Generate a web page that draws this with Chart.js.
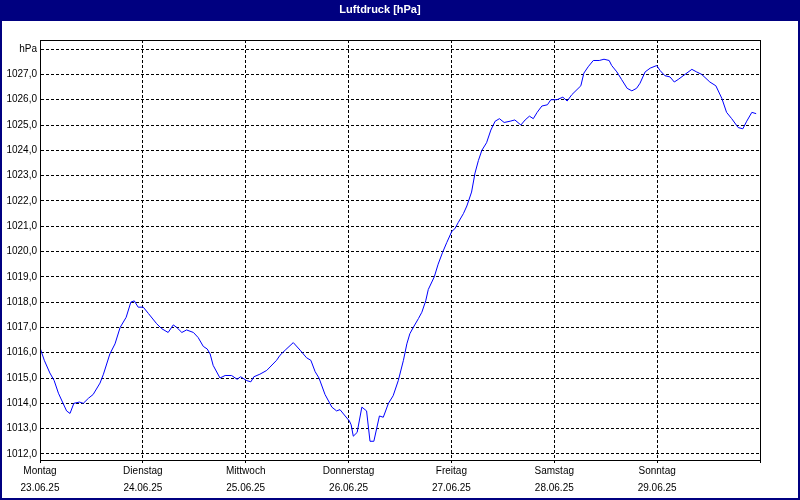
<!DOCTYPE html>
<html>
<head>
<meta charset="utf-8">
<title>Luftdruck [hPa]</title>
<script src="https://cdn.jsdelivr.net/npm/chart.js@4.4.1/dist/chart.umd.min.js"></script>
<style>
    html, body { margin: 0; padding: 0; background: #ffffff; }
    #wrap { width: 800px; height: 500px; }
</style>
</head>
<body>
<div id="wrap"><canvas id="pressureChart" width="800" height="500"></canvas></div>
<script>
// Week axis labels
const dayNames = ['Montag', 'Dienstag', 'Mittwoch', 'Donnerstag', 'Freitag', 'Samstag', 'Sonntag'];
const dayDates = ['23.06.25', '24.06.25', '25.06.25', '26.06.25', '27.06.25', '28.06.25', '29.06.25'];
const yTicks = [1012, 1013, 1014, 1015, 1016, 1017, 1018, 1019, 1020, 1021, 1022, 1023, 1024, 1025, 1026, 1027, 1028];

// Hours since Monday 00:00 and air pressure in hPa
const hours = [
    0, 1.0, 2.3, 3.3, 4.3, 6.2, 7.0, 7.9, 9.2, 10.1, 11.3, 12.4, 14.0, 14.8, 16.3, 17.5, 18.7, 20.1, 21.2, 22.0,
    22.9, 24.1, 25.3, 27.2, 28.4, 29.9, 31.1, 31.9, 33.1, 34.2, 35.8, 36.9, 38.1, 39.0, 39.7, 40.4, 42.0, 43.2, 44.7, 46.0,
    46.8, 48.2, 49.2, 49.9, 51.3, 52.9, 55.2, 56.0, 57.2, 59.1, 60.7, 62.2, 63.2, 64.2, 65.1, 66.5, 68.1, 69.2, 70.0, 71.2,
    72.2, 72.6, 73.1, 74.0, 75.1, 76.2, 77.0, 77.9, 79.2, 80.1, 81.3, 82.4, 83.6, 84.8, 85.6, 86.3, 87.1, 88.3, 89.1, 90.0,
    90.6, 92.0, 92.9, 93.9, 94.9, 96.1, 96.8, 97.6, 98.8, 99.6, 100.7, 101.5, 102.3, 103.1, 104.2, 105.2, 106.2, 107.2, 108.3, 109.7,
    110.8, 112.2, 113.2, 114.2, 115.1, 116.0, 117.1, 118.4, 119.2, 120.6, 122.0, 123.0, 124.1, 126.2, 126.9, 127.9, 129.1, 130.5, 131.6, 132.8,
    133.4, 134.6, 135.7, 137.0, 138.1, 139.2, 140.0, 141.2, 142.4, 143.9, 144.7, 145.8, 147.0, 148.0, 148.9, 150.5, 152.1, 153.2, 154.4, 156.3,
    157.7, 159.1, 160.2, 161.4, 162.9, 164.0, 164.9, 166.1, 167.1
];
const pressure = [
    1016.2, 1015.7, 1015.2, 1014.9, 1014.4, 1013.7, 1013.6, 1014.0, 1014.05, 1014.0, 1014.2, 1014.35, 1014.8, 1015.15, 1015.95, 1016.35, 1017.0, 1017.4, 1018.0, 1018.05,
    1017.8, 1017.8, 1017.55, 1017.15, 1016.95, 1016.8, 1017.1, 1017.0, 1016.8, 1016.9, 1016.8, 1016.6, 1016.25, 1016.15, 1015.95, 1015.5, 1015.0, 1015.1, 1015.1, 1014.95,
    1015.05, 1014.9, 1014.85, 1015.05, 1015.15, 1015.3, 1015.7, 1015.9, 1016.1, 1016.4, 1016.1, 1015.8, 1015.7, 1015.25, 1015.0, 1014.35, 1013.85, 1013.7, 1013.75, 1013.5,
    1013.3, 1013.15, 1012.7, 1012.85, 1013.85, 1013.7, 1012.5, 1012.5, 1013.5, 1013.45, 1014.0, 1014.3, 1014.9, 1015.7, 1016.35, 1016.75, 1017.0, 1017.35, 1017.6, 1018.05,
    1018.5, 1019.0, 1019.5, 1019.95, 1020.35, 1020.8, 1020.9, 1021.15, 1021.5, 1021.8, 1022.35, 1023.1, 1023.6, 1024.0, 1024.3, 1024.8, 1025.15, 1025.25, 1025.1, 1025.15,
    1025.2, 1025.0, 1025.2, 1025.35, 1025.25, 1025.5, 1025.75, 1025.8, 1026.0, 1026.0, 1026.1, 1025.95, 1026.2, 1026.55, 1027.05, 1027.3, 1027.55, 1027.55, 1027.6, 1027.55,
    1027.35, 1027.1, 1026.8, 1026.45, 1026.35, 1026.45, 1026.65, 1027.1, 1027.25, 1027.35, 1027.15, 1026.95, 1026.9, 1026.7, 1026.8, 1027.0, 1027.2, 1027.1, 1027.0, 1026.7,
    1026.55, 1026.05, 1025.5, 1025.25, 1024.9, 1024.85, 1025.15, 1025.5, 1025.45
];

const points = hours.map((h, i) => ({ x: h, y: pressure[i] }));
const labelFont = { family: 'Liberation Sans', size: 10 };

// Navy frame, title bar and the solid plot box
const framePlugin = {
    id: 'frame',
    beforeDraw(chart) {
        const ctx = chart.ctx;
        ctx.save();
        ctx.fillStyle = '#000080';
        ctx.fillRect(0, 0, chart.width, chart.height);
        ctx.fillStyle = '#ffffff';
        ctx.fillRect(2, 21, chart.width - 4, chart.height - 23);
        ctx.restore();
    },
    afterDatasetsDraw(chart) {
        const a = chart.chartArea;
        const ctx = chart.ctx;
        ctx.save();
        ctx.strokeStyle = '#000000';
        ctx.lineWidth = 1;
        ctx.strokeRect(Math.round(a.left) + 0.5, Math.round(a.top) + 0.5, Math.round(a.right - a.left), Math.round(a.bottom - a.top));
        ctx.restore();
    }
};

const pressureCtx = document.getElementById('pressureChart').getContext('2d');
const pressureChart = new Chart(pressureCtx, {
    type: 'line',
    data: {
        datasets: [{
            label: 'Luftdruck',
            data: points,
            borderColor: '#0000ff',
            borderWidth: 1,
            pointRadius: 0,
            tension: 0,
            fill: false
        }]
    },
    options: {
        responsive: false,
        animation: false,
        layout: { padding: { left: 0, right: 40, top: 0, bottom: 0 } },
        plugins: {
            legend: { display: false },
            tooltip: { enabled: false },
            title: {
                display: true,
                text: 'Luftdruck [hPa]',
                color: '#ffffff',
                font: { family: 'Liberation Sans', size: 11, weight: 'bold' },
                padding: { top: 3, bottom: 23.8 }
            }
        },
        scales: {
            x: {
                type: 'linear',
                min: 0,
                max: 168,
                afterBuildTicks: scale => {
                    scale.ticks = dayNames.map((d, i) => ({ value: i * 24 })).concat([{ value: 168 }]);
                },
                afterFit: scale => { scale.height = 40; },
                ticks: {
                    color: '#000000',
                    font: { family: 'Liberation Sans', size: 10, lineHeight: 1.7 },
                    padding: 0,
                    maxRotation: 0,
                    autoSkip: false,
                    callback: value => {
                        const i = Math.round(value / 24);
                        return i < dayNames.length ? [dayNames[i], dayDates[i]] : '';
                    }
                },
                grid: { color: '#000000', lineWidth: 1, tickLength: 3, drawTicks: true },
                border: { display: true, color: '#000000', width: 1, dash: [3, 2] }
            },
            y: {
                min: 1011.76,
                max: 1028.36,
                afterBuildTicks: scale => {
                    scale.ticks = yTicks.map(v => ({ value: v }));
                },
                afterFit: scale => { scale.width = 40; },
                ticks: {
                    color: '#000000',
                    font: labelFont,
                    padding: 3,
                    callback: value => value === 1028 ? 'hPa' : value.toFixed(1).replace('.', ',')
                },
                grid: { color: '#000000', lineWidth: 1, drawTicks: false },
                border: { display: true, color: '#000000', width: 1, dash: [3, 2] }
            }
        }
    },
    plugins: [framePlugin]
});
</script>
</body>
</html>
